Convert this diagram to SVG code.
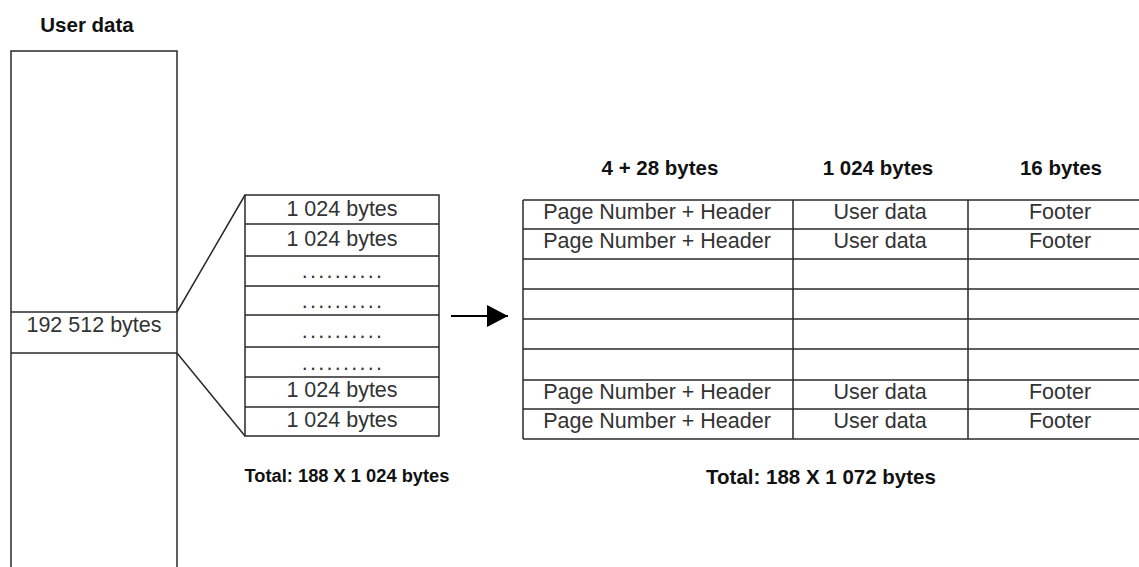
<svg xmlns="http://www.w3.org/2000/svg" width="1139" height="567" viewBox="0 0 1139 567">
<style>
.ln{stroke:#2a2a2a;stroke-width:1.5;fill:none}
.t{font-family:"Liberation Sans",Arial,sans-serif;font-size:21.5px;fill:#333;text-anchor:middle}
.b{font-family:"Liberation Sans",Arial,sans-serif;font-weight:bold;font-size:20.5px;fill:#111;text-anchor:middle}
.d{font-family:"Liberation Sans",Arial,sans-serif;font-size:21.5px;fill:#333;text-anchor:middle;letter-spacing:2.3px}
</style>
<defs>
<marker id="ah" viewBox="0 0 21 22" refX="21" refY="11" markerWidth="21" markerHeight="22" markerUnits="userSpaceOnUse" orient="auto">
<path d="M0,0 L21,11 L0,22 Z" fill="#000"/>
</marker>
</defs>
<rect width="1139" height="567" fill="#fff"/>

<g id="userdata">
<text class="b" x="87" y="32">User data</text>
<path class="ln" d="M11,567 V51 H177 V567"/>
<path class="ln" d="M11,312 H177 M11,353 H177"/>
<text class="t" x="94" y="332">192 512 bytes</text>
</g>

<g id="blocks">
<rect class="ln" x="245" y="195" width="194" height="241"/>
<path class="ln" d="M245,224 H439 M245,256 H439 M245,286 H439 M245,315 H439 M245,347 H439 M245,377 H439 M245,407 H439"/>
<text class="t" x="342" y="216">1 024 bytes</text>
<text class="t" x="342" y="246">1 024 bytes</text>
<text class="d" x="343" y="278">..........</text>
<text class="d" x="343" y="308">..........</text>
<text class="d" x="343" y="338">..........</text>
<text class="d" x="343" y="370">..........</text>
<text class="t" x="342" y="397">1 024 bytes</text>
<text class="t" x="342" y="427">1 024 bytes</text>
<text class="b" x="347" y="482" style="font-size:18.3px">Total: 188 X 1 024 bytes</text>
</g>

<g id="pages">
<text class="b" x="660" y="175">4 + 28 bytes</text>
<text class="b" x="878" y="175">1 024 bytes</text>
<text class="b" x="1061" y="175">16 bytes</text>
<path class="ln" d="M523,200 V439 M793,200 V439 M968,200 V439"/>
<path class="ln" d="M523,200 H1139 M523,229 H1139 M523,259 H1139 M523,289 H1139 M523,319 H1139 M523,349 H1139 M523,380 H1139 M523,409 H1139 M523,439 H1139"/>
<text class="t" x="657" y="219">Page Number + Header</text>
<text class="t" x="880" y="219">User data</text>
<text class="t" x="1060" y="219">Footer</text>
<text class="t" x="657" y="248">Page Number + Header</text>
<text class="t" x="880" y="248">User data</text>
<text class="t" x="1060" y="248">Footer</text>
<text class="t" x="657" y="399">Page Number + Header</text>
<text class="t" x="880" y="399">User data</text>
<text class="t" x="1060" y="399">Footer</text>
<text class="t" x="657" y="428">Page Number + Header</text>
<text class="t" x="880" y="428">User data</text>
<text class="t" x="1060" y="428">Footer</text>
<text class="b" x="821" y="484">Total: 188 X 1 072 bytes</text>
</g>

<g id="connectors">
<path class="ln" d="M177,312 L245,195 M177,353 L245,436"/>
<path d="M451,316 H508" stroke="#000" stroke-width="2" marker-end="url(#ah)"/>
</g>
</svg>
